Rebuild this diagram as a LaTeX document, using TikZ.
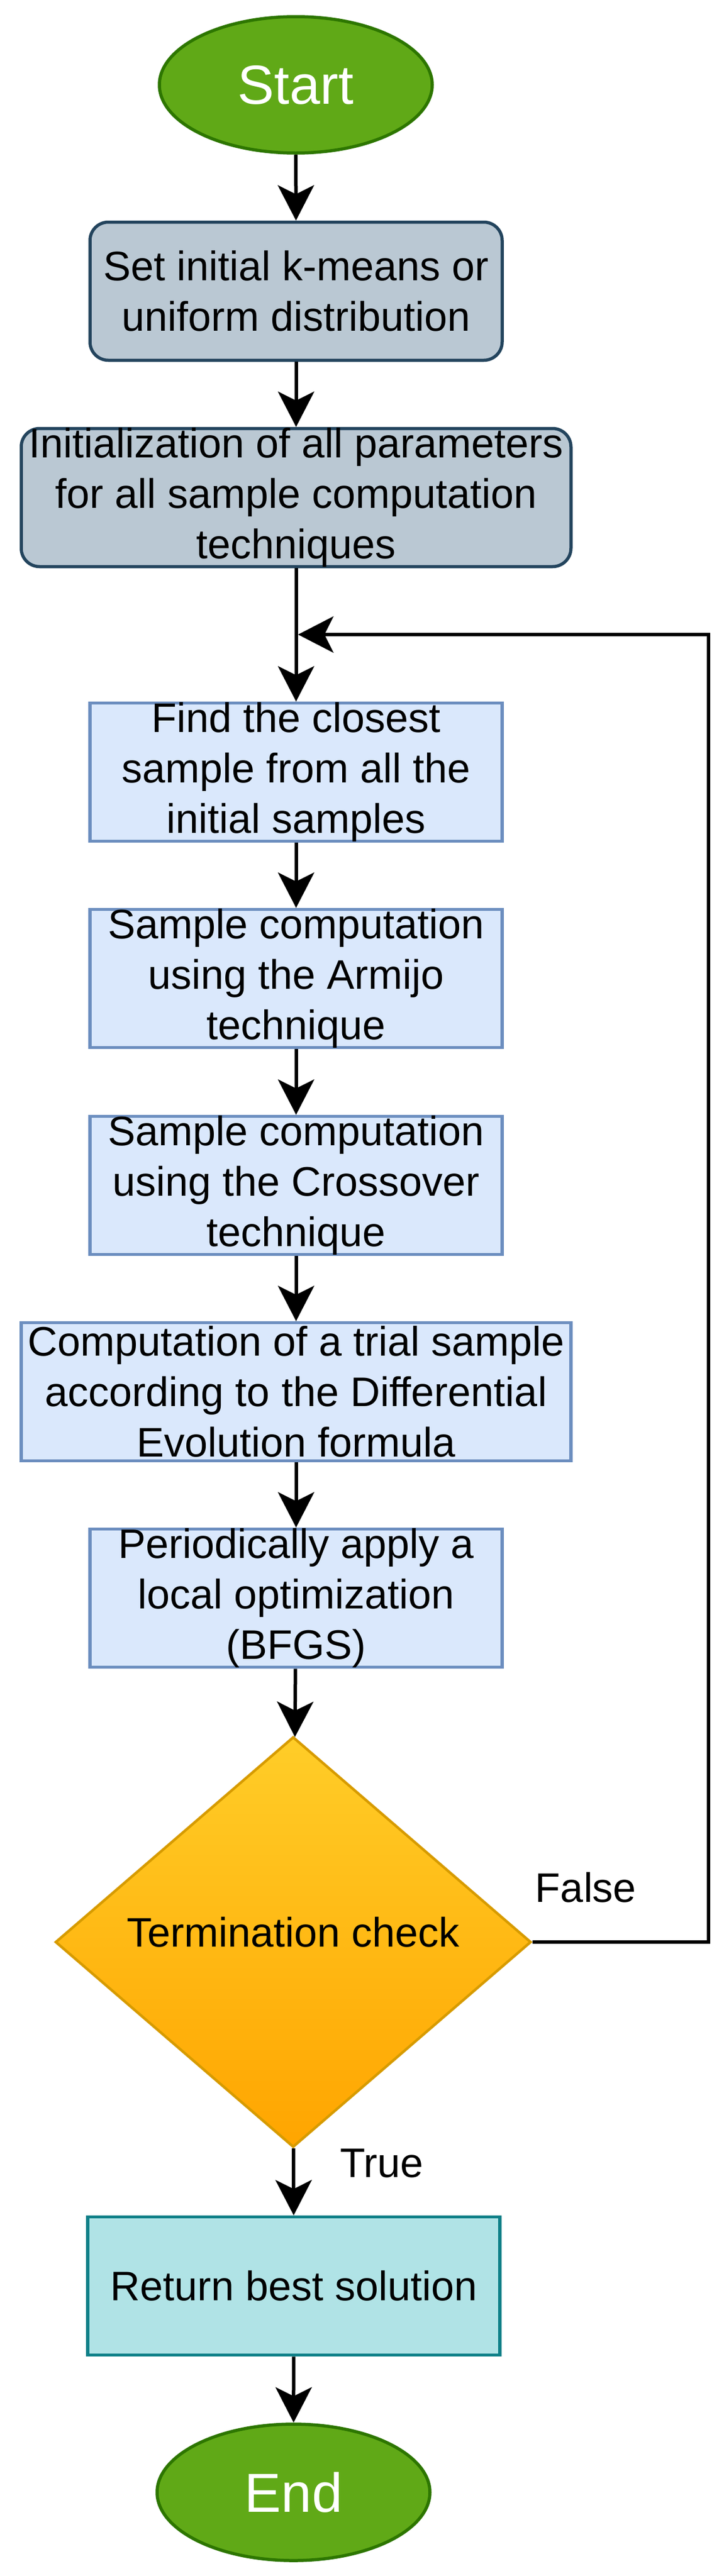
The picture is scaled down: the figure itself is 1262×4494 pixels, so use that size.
\documentclass[tikz,border=0pt]{standalone}
\usepackage{fontspec}
\setmainfont{Liberation Sans}
\usetikzlibrary{arrows.meta,shapes.geometric}

\definecolor{termfill}{HTML}{60A917}
\definecolor{termline}{HTML}{2D7600}
\definecolor{initfill}{HTML}{BAC8D3}
\definecolor{initline}{HTML}{23445D}
\definecolor{stepfill}{HTML}{DAE8FC}
\definecolor{stepline}{HTML}{6C8EBF}
\definecolor{checktop}{HTML}{FFCD28}
\definecolor{checkbot}{HTML}{FFA500}
\definecolor{checkline}{HTML}{D79B00}
\definecolor{retfill}{HTML}{B0E3E6}
\definecolor{retline}{HTML}{0E8088}

\begin{document}
\begin{tikzpicture}[x=1pt,y=-1pt,
  txt/.style={align=center,font=\fontsize{72}{88}\selectfont,inner sep=0pt},
  bigtxt/.style={font=\fontsize{96}{115}\selectfont,text=white,inner sep=0pt},
  terminal/.style={ellipse,draw=termline,fill=termfill,line width=5.5pt,minimum width=476pt,minimum height=238pt,inner sep=0pt},
  initbox/.style={rectangle,rounded corners=32pt,draw=initline,fill=initfill,line width=5.5pt,minimum height=241pt,inner sep=0pt},
  stepbox/.style={rectangle,draw=stepline,fill=stepfill,line width=5.5pt,minimum height=241pt,inner sep=0pt},
  narrow/.style={minimum width=719pt},
  wide/.style={minimum width=959pt},
  arr/.style={line width=6pt,-{Stealth[length=62pt,width=64pt,inset=16pt,line width=0pt]}}
]
\useasboundingbox (0,0) rectangle (1262,4494);

%Shape: Ellipse [start]
\node[terminal,label={[bigtxt]center:Start}] (start) at (516,148) {};
%Shape: Rounded Rectangle [setk]
\node[initbox,narrow,label={[txt]center:{Set initial k-means or\\uniform distribution}}] (setk) at (516.5,508) {};
%Shape: Rounded Rectangle [init]
\node[initbox,wide,label={[txt]center:{Initialization of all parameters\\for all sample computation\\techniques}}] (init) at (516.5,868) {};
%Shape: Rectangle [find]
\node[stepbox,narrow,label={[txt]center:{Find the closest\\sample from all the\\initial samples}}] (find) at (516.5,1347) {};
%Shape: Rectangle [armijo]
\node[stepbox,narrow,label={[txt]center:{Sample computation\\using the Armijo\\technique}}] (armijo) at (516.5,1707) {};
%Shape: Rectangle [cross]
\node[stepbox,narrow,label={[txt]center:{Sample computation\\using the Crossover\\technique}}] (cross) at (516.5,2068) {};
%Shape: Rectangle [devo]
\node[stepbox,wide,label={[txt]center:{Computation of a trial sample\\according to the Differential\\Evolution formula}}] (devo) at (516.5,2428) {};
%Shape: Rectangle [bfgs]
\node[stepbox,narrow,label={[txt]center:{Periodically apply a\\local optimization\\(BFGS)}}] (bfgs) at (516.5,2788) {};
%Shape: Diamond [check]
\node[diamond,draw=checkline,top color=checktop,bottom color=checkbot,line width=4.5pt,minimum width=830pt,minimum height=716pt,inner sep=0pt,
  label={[txt,yshift=17pt]center:Termination check}] (check) at (511.5,3388) {};
%Shape: Rectangle [ret]
\node[rectangle,draw=retline,fill=retfill,line width=5.5pt,narrow,minimum height=241pt,inner sep=0pt,
  label={[txt]center:Return best solution}] (ret) at (512.5,3988) {};
%Shape: Ellipse [endn]
\node[terminal,label={[bigtxt]center:End}] (endn) at (512,4348) {};

%Loop points
\coordinate (loopin) at (520,1107);
\coordinate (loopcorner) at (1236,1107);

%Straight Lines
\draw[arr] (start) -- (setk);
\draw[arr] (setk) -- (init);
\draw[arr] (init) -- (find);
\draw[arr] (find) -- (armijo);
\draw[arr] (armijo) -- (cross);
\draw[arr] (cross) -- (devo);
\draw[arr] (devo) -- (bfgs);
\draw[arr] (bfgs) -- (check);
\draw[arr] (check) -- (ret);
\draw[arr] (ret) -- (endn);
%Connector: False branch
\draw[arr] (check.east) -| (loopcorner) -- (loopin);

% Text Node
\node[txt] (truelbl) at (666,3774) {True};
% Text Node
\node[txt] (falselbl) at (1022,3293) {False};

\end{tikzpicture}
\end{document}
